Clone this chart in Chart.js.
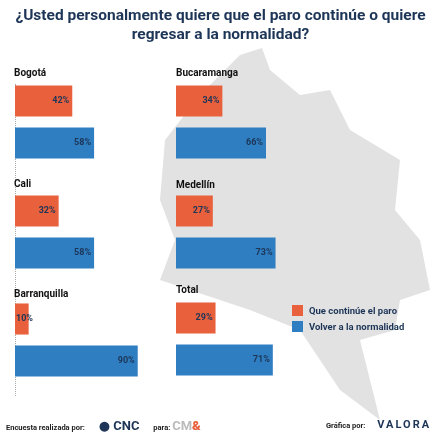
<!DOCTYPE html>
<html>
<head>
<meta charset="utf-8">
<script src="https://cdn.jsdelivr.net/npm/chart.js@4"></script>
<style>
body { margin:0; width:441px; height:437px; background:#fff; font-family:"Roboto","DejaVu Sans",sans-serif; position:relative; overflow:hidden; }
#map { position:absolute; left:0; top:0; }
h1 { position:absolute; left:0; top:6px; width:441px; margin:0; text-align:center; font-size:15.5px; line-height:19px; color:#1d3557; font-weight:700; }
.lbl { position:absolute; font-size:10px; font-weight:700; color:#111; }
.box { position:absolute; width:150px; height:84px; }
.leg { position:absolute; left:292px; font-size:9.5px; font-weight:700; color:#1d3557; }
.leg span { display:inline-block; width:11px; height:11px; vertical-align:-2px; margin-right:6px; }
.foot { position:absolute; top:418px; font-size:7.5px; font-weight:700; color:#222; }
.dots { position:absolute; left:15px; top:84px; height:312px; border-left:1px dotted #aaa; }
</style>
</head>
<body>
<canvas id="map" width="441" height="437"></canvas>
<h1>¿Usted personalmente quiere que el paro continúe o quiere<br>regresar a la normalidad?</h1>
<div class="dots"></div>
<div class="lbl" style="left:14px;top:67px">Bogotá</div>
<div class="lbl" style="left:176px;top:67px">Bucaramanga</div>
<div class="lbl" style="left:14px;top:178px">Cali</div>
<div class="lbl" style="left:176px;top:179px">Medellín</div>
<div class="lbl" style="left:14px;top:288px">Barranquilla</div>
<div class="lbl" style="left:176px;top:284px">Total</div>
<div class="box" style="left:15px;top:80px"><canvas id="c0"></canvas></div>
<div class="box" style="left:176px;top:80px"><canvas id="c1"></canvas></div>
<div class="box" style="left:15px;top:190px"><canvas id="c2"></canvas></div>
<div class="box" style="left:176px;top:190px"><canvas id="c3"></canvas></div>
<div class="box" style="left:15px;top:298px"><canvas id="c4"></canvas></div>
<div class="box" style="left:176px;top:297px"><canvas id="c5"></canvas></div>
<div class="leg" style="top:305px"><span style="background:#e8603c"></span>Que continúe el paro</div>
<div class="leg" style="top:321px"><span style="background:#2f7ec1"></span>Volver a la normalidad</div>
<div class="foot" style="left:6px">Encuesta realizada por: <span style="font-size:13px;color:#1d3557;margin-left:12px">● CNC</span> <span style="margin-left:12px">para:</span> <span style="font-size:13px;color:#bbb">CM<b style="color:#e8603c">&amp;</b></span></div>
<div class="foot" style="left:326px">Gráfica por: <span style="font-size:11px;color:#1d3557;letter-spacing:2px;margin-left:10px">VALORA</span></div>
<script>
const cities = ['Bogotá', 'Bucaramanga', 'Cali', 'Medellín', 'Barranquilla', 'Total'];
const paro = [42, 34, 32, 27, 10, 29];
const normalidad = [58, 66, 58, 73, 90, 71];
const seriesNames = ['Que continúe el paro', 'Volver a la normalidad'];
const colors = ['#e8603c', '#2f7ec1'];

// decorative grey map silhouette
const m = document.getElementById('map').getContext('2d');
m.fillStyle = '#e2e2e2';
m.beginPath();
[[240,55],[262,48],[270,70],[300,95],[330,90],[350,130],[400,160],[395,210],[420,240],[430,290],[400,300],[395,330],[360,340],[380,420],[340,390],[300,330],[250,310],[220,300],[160,280],[175,240],[160,200],[165,140],[200,95]].forEach((p, i) => i ? m.lineTo(p[0], p[1]) : m.moveTo(p[0], p[1]));
m.closePath(); m.fill();

const valueLabels = {
  id: 'valueLabels',
  afterDatasetsDraw(chart) {
    const ctx = chart.ctx;
    ctx.save();
    ctx.font = 'bold 9px Roboto, sans-serif';
    ctx.fillStyle = '#1d3557';
    ctx.textBaseline = 'middle';
    chart.getDatasetMeta(0).data.forEach((bar, i) => {
      const txt = chart.data.datasets[0].data[i] + '%';
      const w = ctx.measureText(txt).width;
      if (bar.x - bar.base < w + 4) {
        ctx.textAlign = 'left';
        ctx.fillText(txt, bar.base + 1, bar.y);
      } else {
        ctx.textAlign = 'right';
        ctx.fillText(txt, bar.x - 3, bar.y);
      }
    });
    ctx.restore();
  }
};

cities.forEach((city, i) => {
  new Chart(document.getElementById('c' + i), {
    type: 'bar',
    data: {
      labels: seriesNames,
      datasets: [{
        label: city,
        data: [paro[i], normalidad[i]],
        backgroundColor: colors,
        barPercentage: 0.74,
        categoryPercentage: 1
      }]
    },
    options: {
      indexAxis: 'y',
      responsive: true,
      maintainAspectRatio: false,
      animation: false,
      layout: { padding: 0 },
      plugins: { legend: { display: false }, tooltip: { enabled: false } },
      scales: {
        x: { display: false, min: 0, max: 110 },
        y: { display: false }
      }
    },
    plugins: [valueLabels]
  });
});
</script>
</body>
</html>
